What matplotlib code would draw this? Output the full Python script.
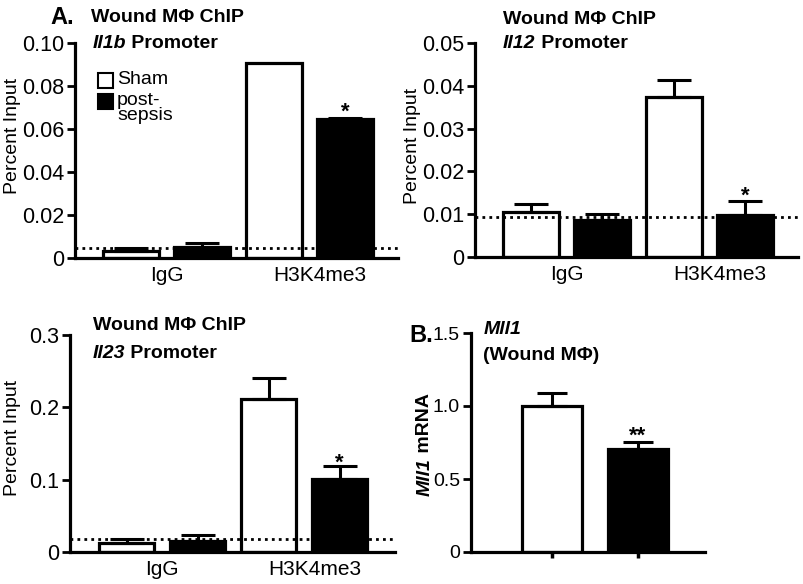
import numpy as np
import matplotlib
matplotlib.use("Agg")
import matplotlib.pyplot as plt
from matplotlib.patches import Rectangle
from matplotlib.text import Annotation

plt.rcParams['font.family'] = ['Liberation Sans', 'DejaVu Sans']

groups = ["IgG", "H3K4me3"]

# Il1b promoter (percent input)
il1b_sham = [0.0033, 0.0905]
il1b_sham_err = [0.0014, 0.0]
il1b_post = [0.0050, 0.0647]
il1b_post_err = [0.0020, 0.0006]
il1b_cutoff = 0.0047

# Il12 promoter
il12_sham = [0.0105, 0.0373]
il12_sham_err = [0.0018, 0.0041]
il12_post = [0.0087, 0.0098]
il12_post_err = [0.0013, 0.0032]
il12_cutoff = 0.0094

# Il23 promoter
il23_sham = [0.0125, 0.211]
il23_sham_err = [0.0050, 0.030]
il23_post = [0.0150, 0.101]
il23_post_err = [0.0080, 0.018]
il23_cutoff = 0.018

# Mll1 mRNA
mll1_labels = ["Sham", "post-\nsepsis"]
mll1_vals = [1.00, 0.705]
mll1_err = [0.088, 0.047]

W, H = 804, 584
fig = plt.figure(figsize=(W / 100, H / 100), dpi=100)
fig.patch.set_facecolor('white')

LW = 2.3
TITLE_FS = 14


def make_ax(x0, x1, ytop, yzero, ytick_fs=15.5):
    # pixel box of the axes -> figure fraction
    ax = fig.add_axes([x0 / W, (H - yzero) / H, (x1 - x0) / W, (yzero - ytop) / H])
    for s in ['top', 'right']:
        ax.spines[s].set_visible(False)
    for s in ['left', 'bottom']:
        ax.spines[s].set_linewidth(LW)
    ax.tick_params(axis='y', direction='out', length=6, width=2, labelsize=ytick_fs, pad=2)
    ax.tick_params(axis='x', length=0, labelsize=15, pad=6)
    return ax


def two_part(x, y, first, rest):
    # bold italic gene name followed by bold plain text
    t = fig.text(x / W, 1 - y / H, first, fontsize=TITLE_FS, fontweight='bold', fontstyle='italic',
                 va='center', ha='left')
    fig.add_artist(Annotation(rest, xy=(1, 0.5), xycoords=t, va='center', ha='left',
                              fontsize=TITLE_FS, fontweight='bold'))
    return t


def star(ax, x, y, s, off=0):
    ax.annotate(s, (x, y), xytext=(0, off), textcoords='offset points',
                ha='center', va='baseline', fontsize=16, fontweight='bold')


def chip_panel(ax, sham, sham_err, post, post_err, cutoff, ymax, yticks, yticklabels, xlim):
    pos_sham = np.array([0, 2])
    pos_post = np.array([1, 3])
    ax.bar(pos_sham, sham, width=0.78, color='white', edgecolor='black', linewidth=LW, zorder=2)
    ax.bar(pos_post, post, width=0.78, color='black', edgecolor='black', linewidth=LW, zorder=2)
    for p, v, e in list(zip(pos_sham, sham, sham_err)) + list(zip(pos_post, post, post_err)):
        if e > 0:
            ax.errorbar(p, v, yerr=[[0], [e]], color='black', capsize=12, capthick=2.2,
                        elinewidth=2.2, zorder=3)
    ax.axhline(cutoff, color='black', linestyle=(0, (1, 1.5)), linewidth=2, zorder=4)
    ax.set_ylim(0, ymax)
    ax.set_xlim(*xlim)
    ax.set_yticks(yticks)
    ax.set_yticklabels(yticklabels)
    ax.set_xticks([0.5, 2.65])
    ax.set_xticklabels(groups)
    ax.set_ylabel('Percent Input', fontsize=14)


# panel A, Il1b
ax1 = make_ax(75, 398, 43, 258)
chip_panel(ax1, il1b_sham, il1b_sham_err, il1b_post, il1b_post_err, il1b_cutoff,
           0.10, [0, 0.02, 0.04, 0.06, 0.08, 0.10], ['0', '0.02', '0.04', '0.06', '0.08', '0.10'],
           (-0.78, 3.74))
star(ax1, 3, il1b_post[1] + il1b_post_err[1], '*', off=0)
ax1.yaxis.set_label_coords(-0.167, 0.57)
# legend drawn as squares + text
fig.patches.append(Rectangle((98 / W, (H - 88) / H), 15 / W, 15 / H, transform=fig.transFigure,
                             facecolor='white', edgecolor='black', linewidth=1.5))
fig.patches.append(Rectangle((98 / W, (H - 109) / H), 15 / W, 15 / H, transform=fig.transFigure,
                             facecolor='black', edgecolor='black', linewidth=1.5))
fig.text(117 / W, 1 - 80 / H, mll1_labels[0], fontsize=14, va='center', ha='left')
fig.text(117 / W, 1 - 92 / H, mll1_labels[1], fontsize=14, va='top', ha='left', linespacing=0.85)
fig.text(50 / W, 1 - 17 / H, 'A.', fontsize=17, fontweight='bold', va='center', ha='left')
fig.text(91 / W, 1 - 18 / H, 'Wound M\u03a6 ChIP', fontsize=TITLE_FS, fontweight='bold', va='center', ha='left')
two_part(93, 44, 'Il1b', ' Promoter')

# Il12
ax2 = make_ax(475, 798, 43, 257)
chip_panel(ax2, il12_sham, il12_sham_err, il12_post, il12_post_err, il12_cutoff,
           0.05, [0, 0.01, 0.02, 0.03, 0.04, 0.05], ['0', '0.01', '0.02', '0.03', '0.04', '0.05'],
           (-0.78, 3.74))
star(ax2, 3, il12_post[1] + il12_post_err[1], '*', off=0)
ax2.yaxis.set_label_coords(-0.167, 0.52)
fig.text(503 / W, 1 - 20 / H, 'Wound M\u03a6 ChIP', fontsize=TITLE_FS, fontweight='bold', va='center', ha='left')
two_part(503, 44, 'Il12', ' Promoter')

# Il23
ax3 = make_ax(70, 395, 335, 552)
chip_panel(ax3, il23_sham, il23_sham_err, il23_post, il23_post_err, il23_cutoff,
           0.3, [0, 0.1, 0.2, 0.3], ['0', '0.1', '0.2', '0.3'],
           (-0.8, 3.78))
star(ax3, 3, il23_post[1] + il23_post_err[1], '*', off=-2)
ax3.yaxis.set_label_coords(-0.151, 0.525)
fig.text(93 / W, 1 - 326 / H, 'Wound M\u03a6 ChIP', fontsize=TITLE_FS, fontweight='bold', va='center', ha='left')
two_part(93, 353, 'Il23', ' Promoter')

# panel B, Mll1 mRNA
ax4 = make_ax(471, 705, 333, 552, ytick_fs=14)
ax4.bar([0, 1], mll1_vals, width=0.69, color=['white', 'black'], edgecolor='black', linewidth=LW, zorder=2)
ax4.errorbar([0, 1], mll1_vals, yerr=[[0, 0], mll1_err], fmt='none', color='black',
             capsize=11, capthick=2.2, elinewidth=2.2, zorder=3)
star(ax4, 1, mll1_vals[1] + mll1_err[1], '**', off=0)
ax4.set_ylim(0, 1.5)
ax4.set_xlim(-0.94, 1.78)
ax4.set_yticks([0, 0.5, 1.0, 1.5])
ax4.set_yticklabels(['0', '0.5', '1.0', '1.5'])
ax4.set_xticks([0, 1])
ax4.set_xticklabels(['', ''])
ax4.tick_params(axis='x', length=4, width=2.5, direction='out')
yl = fig.text(425 / W, 1 - 477 / H, 'Mll1', fontsize=14, fontweight='bold', fontstyle='italic',
              va='center', ha='center', rotation=90)
fig.add_artist(Annotation(' mRNA', xy=(0.5, 1), xycoords=yl, va='bottom', ha='center',
                          fontsize=14, fontweight='bold', rotation=90))
fig.text(409 / W, 1 - 336 / H, 'B.', fontsize=17, fontweight='bold', va='center', ha='left')
fig.text(484 / W, 1 - 330 / H, 'Mll1', fontsize=TITLE_FS, fontweight='bold', fontstyle='italic',
         va='center', ha='left')
fig.text(483 / W, 1 - 355 / H, '(Wound M\u03a6)', fontsize=TITLE_FS, fontweight='bold', va='center', ha='left')

fig.savefig('out.png', dpi=100)
